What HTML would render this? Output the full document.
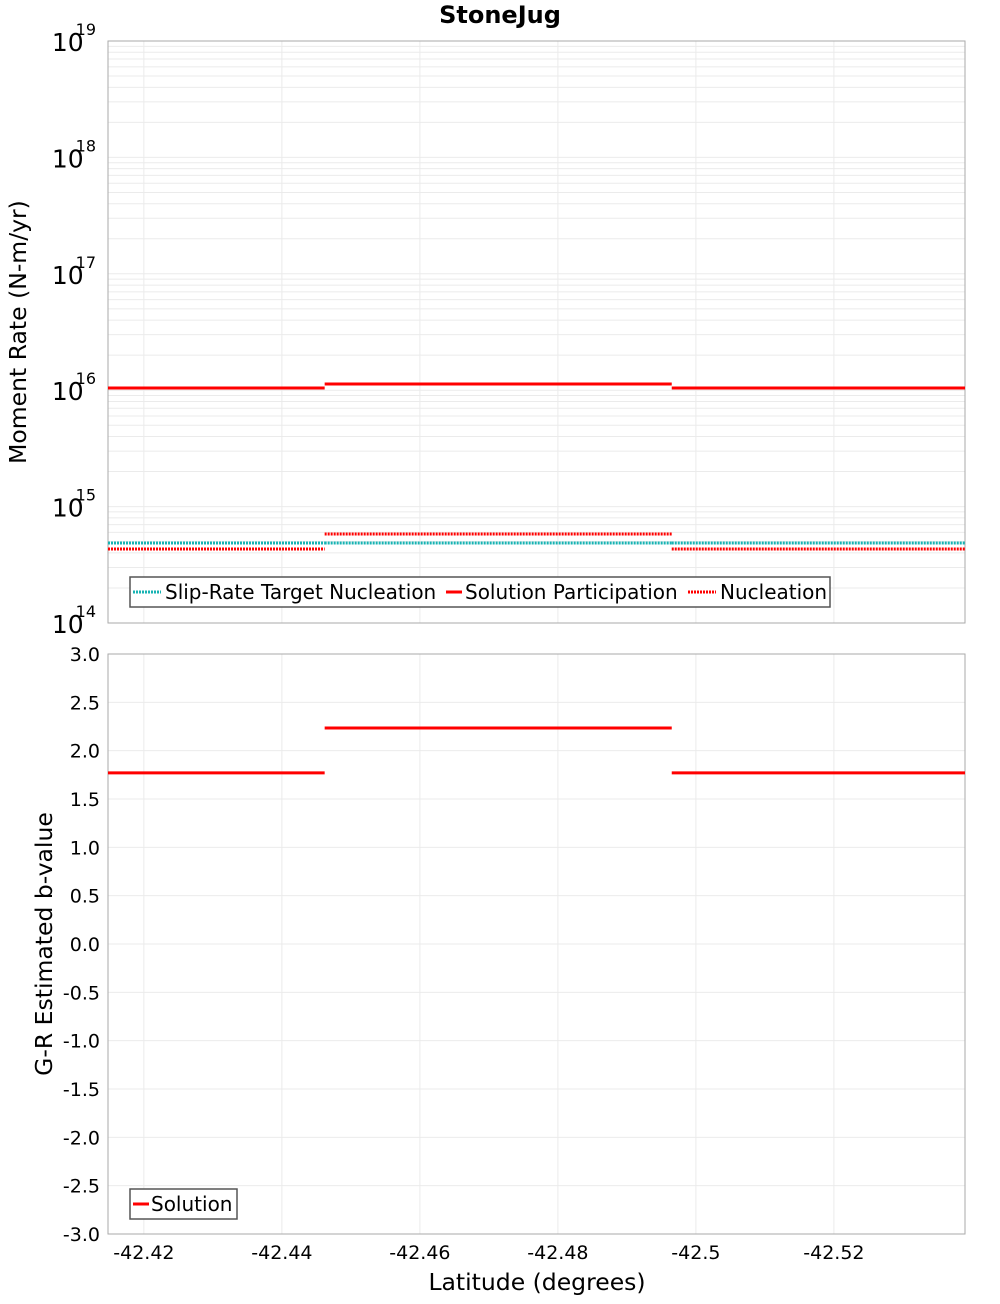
<!DOCTYPE html>
<html><head><meta charset="utf-8"><style>
body{margin:0;background:#fff;font-family:"DejaVu Sans","Liberation Sans",sans-serif}
</style></head><body>
<svg id="c" width="1000" height="1300" xmlns="http://www.w3.org/2000/svg" font-family="DejaVu Sans, Liberation Sans, sans-serif"></svg>
<script>
const breaks=[-42.4148,-42.4462,-42.4965,-42.539];
const partVals=[1.045e16,1.13e16,1.045e16];
const nuclVals=[4.32e14,5.82e14,4.32e14];
const targetVals=[4.87e14,4.87e14,4.87e14];
const bVals=[1.77,2.235,1.77];
const xTicks=[-42.42,-42.44,-42.46,-42.48,-42.5,-42.52];
const xTickLabels=["-42.42","-42.44","-42.46","-42.48","-42.5","-42.52"];
const bTicks=[3,2.5,2,1.5,1,0.5,0,-0.5,-1,-1.5,-2,-2.5,-3];
const logTicks=[14,15,16,17,18,19];

const svg=document.getElementById('c');const NS="http://www.w3.org/2000/svg";
function el(t,a,p,txt){const e=document.createElementNS(NS,t);for(const k in a)e.setAttribute(k,a[k]);if(txt!==undefined)e.textContent=txt;(p||svg).appendChild(e);return e;}
const L=108,R=965,T1=41,B1=623,T2=654,B2=1234;
const X=v=>L+(breaks[0]-v)/(breaks[0]-breaks[3])*(R-L);
const Y1=v=>B1-(Math.log10(v)-14)/5*(B1-T1);
const Y2=v=>T2+(3-v)/6*(B2-T2);

el('text',{x:500,y:23,'text-anchor':'middle','font-size':24,'font-weight':'bold',},svg,'StoneJug');

const g1=el('g',{});
for(let d=14;d<19;d++)for(let m=1;m<10;m++){const y=Y1(m*Math.pow(10,d));el('line',{x1:L,x2:R,y1:y,y2:y,stroke:'#ebebeb'},g1);}
const g2=el('g',{});
bTicks.forEach(v=>el('line',{x1:L,x2:R,y1:Y2(v),y2:Y2(v),stroke:'#ebebeb'},g2));
xTicks.forEach(v=>{el('line',{x1:X(v),x2:X(v),y1:T1,y2:B1,stroke:'#ebebeb'},g1);el('line',{x1:X(v),x2:X(v),y1:T2,y2:B2,stroke:'#ebebeb'},g2);});
el('rect',{x:L,y:T1,width:R-L,height:B1-T1,fill:'none',stroke:'#aaa',});
el('rect',{x:L,y:T2,width:R-L,height:B2-T2,fill:'none',stroke:'#aaa',});

logTicks.forEach(d=>{const y=Y1(Math.pow(10,d));const t=el('text',{x:96,y:y+10,'text-anchor':'end','font-size':25,});t.textContent='10';el('tspan',{dy:-16,dx:-8,'font-size':16},t,String(d));});
bTicks.forEach(v=>el('text',{x:100,y:Y2(v)+7,'text-anchor':'end','font-size':19,},svg,v.toFixed(1)));
xTicks.forEach((v,i)=>el('text',{x:X(v),y:1259,'text-anchor':'middle','font-size':19,},svg,xTickLabels[i]));
el('text',{x:537,y:1290,'text-anchor':'middle','font-size':23.5,},svg,'Latitude (degrees)');
el('text',{transform:'translate(26,332) rotate(-90)','text-anchor':'middle','font-size':23.5,},svg,'Moment Rate (N-m/yr)');
el('text',{transform:'translate(52,944) rotate(-90)','text-anchor':'middle','font-size':23.5,},svg,'G-R Estimated b-value');

function series(vals,Y,stroke,dash,name){const g=el('g',{});
for(let i=0;i<vals.length;i++){const a={x1:X(breaks[i]),x2:X(breaks[i+1]),y1:Y(vals[i]),y2:Y(vals[i]),stroke:stroke,'stroke-width':3};if(dash)a['stroke-dasharray']=dash;const ln=el('line',a,g);}}
series(targetVals,Y1,'#17b3b3','2 1','slip-rate-target-nucleation');
series(partVals,Y1,'#f00',null,'solution-participation');
series(nuclVals,Y1,'#f00','2 1','nucleation');
series(bVals,Y2,'#f00',null,'b-value-solution');

const lg=el('g',{});
el('rect',{x:130,y:577,width:700,height:30,fill:'#fff',stroke:'#555','stroke-width':1.5},lg);
[[133,'#17b3b3','2 1','Slip-Rate Target Nucleation',165],[446,'#f00',null,'Solution Participation',465],[688,'#f00','2 1','Nucleation',720]].forEach(e=>{
const a={x1:e[0],x2:e[0]+28,y1:592,y2:592,stroke:e[1],'stroke-width':3};if(e[2])a['stroke-dasharray']=e[2];
if(e[3]=='Solution Participation'){a.x2=e[0]+16;}el('line',a,lg);el('text',{x:e[4],y:599,'font-size':20},lg,e[3]);});
const lg2=el('g',{});
el('rect',{x:130,y:1189,width:107,height:30,fill:'#fff',stroke:'#555','stroke-width':1.5},lg2);
el('line',{x1:133,x2:149,y1:1204,y2:1204,stroke:'#f00','stroke-width':3},lg2);
el('text',{x:151,y:1211,'font-size':20},lg2,'Solution');
</script>
</body></html>
